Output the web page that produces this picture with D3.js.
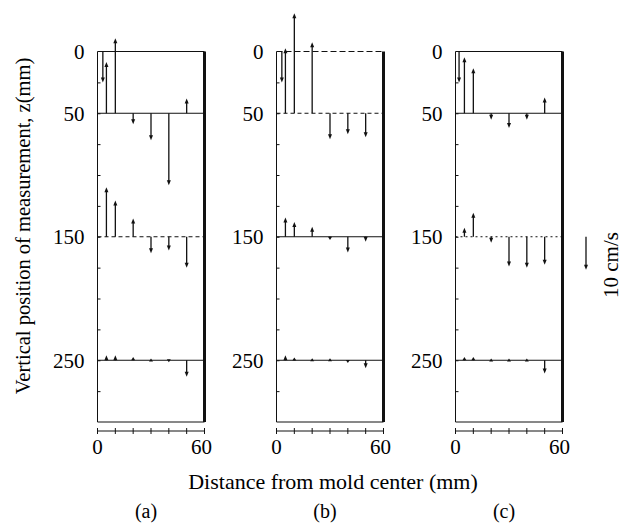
<!DOCTYPE html>
<html>
<head>
<meta charset="utf-8">
<script src="https://cdn.jsdelivr.net/npm/d3@7"></script>
<style>
  body { margin: 0; background: #fff; }
  svg text { font-family: "Liberation Serif", "Times New Roman", Times, "DejaVu Serif", serif; }
</style>
</head>
<body>
<div id="chart"></div>
<script>
// measurement positions (mm from mold center) and levels (mm below meniscus)
var xPos = [5, 10, 20, 30, 40, 50];
var levels = [50, 150, 250];
var yTicks = [0, 50, 150, 250];
var xTickLabels = [0, 60];
var panelNames = ["(a)", "(b)", "(c)"];

// vertical velocity, cm/s (positive = upward), one array per panel and level
var velA50 = [15.5, 22.7, -3.3, -8.2, -21.8, 4.5];
var velA150 = [15, 11, 5.5, -5, -4.2, -9.4];
var velA250 = [1.5, 1.5, 1, 0.5, -0.6, -5];
var velB50 = [19.7, 30.3, 21.5, -7.9, -6.4, -7.3];
var velB150 = [5.8, 4.5, 3, -1, -4.8, -1.5];
var velB250 = [1.5, 0.8, 0.6, 0.6, -0.8, -2.4];
var velC50 = [17, 13.6, -2, -4.5, -2, 4.8];
var velC150 = [2.7, 7.3, -1.8, -9, -9.4, -8.5];
var velC250 = [1, 1, 0.5, 0.5, 0.5, -4];

// short vector just below the meniscus near the nozzle
var meniscusX = [3, 3, 2];
var meniscusV = [-9.4, -9.4, -9.4];

var panelVel = [
    [velA50, velA150, velA250],
    [velB50, velB150, velB250],
    [velC50, velC150, velC250]
];

var width = 625, height = 524;
var panelLeft = [97.5, 276.5, 455.5],
    panelW = 107;

var svg = d3.select("#chart")
    .append("svg")
    .attr("width", width)
    .attr("height", height);

var y = d3.scaleLinear().domain([0, 300]).range([51.5, 422]);
// 10 cm/s drawn as ~33 px
var v = d3.scaleLinear().domain([0, 10]).range([0, 33]);

var ink = "#111";

function arrow(g, px, py, vel) {
    var len = v(Math.abs(vel));
    var dir = vel >= 0 ? -1 : 1;
    var tip = py + dir * len;
    var head = Math.min(5, Math.max(len, 3));
    g.append("line")
        .attr("x1", px).attr("x2", px)
        .attr("y1", py).attr("y2", tip - dir * head * 0.6)
        .attr("stroke", ink)
        .attr("stroke-width", 1.3);
    g.append("path")
        .attr("d", "M" + px + "," + tip +
            "L" + (px - 2) + "," + (tip - dir * head) +
            "L" + (px + 2) + "," + (tip - dir * head) + "Z")
        .attr("fill", ink);
}

panelNames.forEach(function (name, i) {
    var x = d3.scaleLinear().domain([0, 60]).range([panelLeft[i], panelLeft[i] + panelW]);
    var g = svg.append("g");

    // frame: thin on three sides, thick mold wall on the right
    g.append("line")
        .attr("x1", x(0)).attr("x2", x(0))
        .attr("y1", y(0)).attr("y2", y(300))
        .attr("stroke", ink).attr("stroke-width", 1);
    g.append("line")
        .attr("x1", x(0)).attr("x2", x(60))
        .attr("y1", y(0)).attr("y2", y(0))
        .attr("stroke", ink).attr("stroke-width", 1)
        .attr("stroke-dasharray", i === 1 ? "6,3" : null);
    g.append("line")
        .attr("x1", x(0)).attr("x2", x(60))
        .attr("y1", y(300)).attr("y2", y(300))
        .attr("stroke", ink).attr("stroke-width", 1);
    g.append("line")
        .attr("x1", x(60)).attr("x2", x(60))
        .attr("y1", y(0)).attr("y2", y(300))
        .attr("stroke", ink).attr("stroke-width", 3);

    // small inner ticks on the left frame
    g.append("g")
        .attr("transform", "translate(" + x(0) + ",0)")
        .call(d3.axisRight(y).tickValues(d3.range(25, 300, 25)).tickSize(3).tickFormat(""))
        .call(function (a) { a.select(".domain").remove(); })
        .selectAll("line").attr("stroke", ink);

    // y tick labels
    g.selectAll(".ylab")
        .data(yTicks)
        .enter()
        .append("text")
        .attr("x", x(0) - 13)
        .attr("y", function (d) { return y(d); })
        .attr("dy", "0.35em")
        .attr("text-anchor", "end")
        .style("font-size", "21px")
        .text(function (d) { return d; });

    // baselines of the measurement levels
    levels.forEach(function (lv, j) {
        var dash = null;
        if (j === 1 && i === 0) dash = "4,3";
        if (j === 0 && i === 1) dash = "4,3";
        if (j === 1 && i === 2) dash = "2,3";
        g.append("line")
            .attr("x1", x(0)).attr("x2", x(60))
            .attr("y1", y(lv)).attr("y2", y(lv))
            .attr("stroke", ink).attr("stroke-width", 1)
            .attr("stroke-dasharray", dash);

        panelVel[i][j].forEach(function (vel, k) {
            arrow(g, x(xPos[k]), y(lv), vel);
        });
    });

    arrow(g, x(meniscusX[i]), y(0), meniscusV[i]);

    // separate x axis below the frame
    var axisY = 431;
    g.append("line")
        .attr("x1", x(0)).attr("x2", x(60))
        .attr("y1", axisY).attr("y2", axisY)
        .attr("stroke", ink).attr("stroke-width", 1);
    g.selectAll(".xt")
        .data(d3.range(0, 61, 10))
        .enter()
        .append("line")
        .attr("x1", function (d) { return x(d); })
        .attr("x2", function (d) { return x(d); })
        .attr("y1", axisY - 3).attr("y2", axisY + 3)
        .attr("stroke", ink).attr("stroke-width", 1);
    g.selectAll(".xlab")
        .data(xTickLabels)
        .enter()
        .append("text")
        .attr("x", function (d) { return x(d) - (d === 60 ? 3 : 0); })
        .attr("y", 454)
        .attr("text-anchor", "middle")
        .style("font-size", "21px")
        .text(function (d) { return d; });

    g.append("text")
        .attr("x", x(30) - 5)
        .attr("y", 518)
        .attr("text-anchor", "middle")
        .style("font-size", "20px")
        .text(name);
});

// axis titles
svg.append("text")
    .attr("x", 333)
    .attr("y", 489)
    .attr("text-anchor", "middle")
    .style("font-size", "22px")
    .text("Distance from mold center (mm)");

svg.append("text")
    .attr("transform", "translate(30,226) rotate(-90)")
    .attr("text-anchor", "middle")
    .style("font-size", "20.5px")
    .text("Vertical position of measurement, z(mm)");

// 10 cm/s reference vector
var refG = svg.append("g");
arrow(refG, 586, y(150), -10);
svg.append("text")
    .attr("transform", "translate(618,265) rotate(-90)")
    .attr("text-anchor", "middle")
    .style("font-size", "21px")
    .text("10 cm/s");
</script>
</body>
</html>
